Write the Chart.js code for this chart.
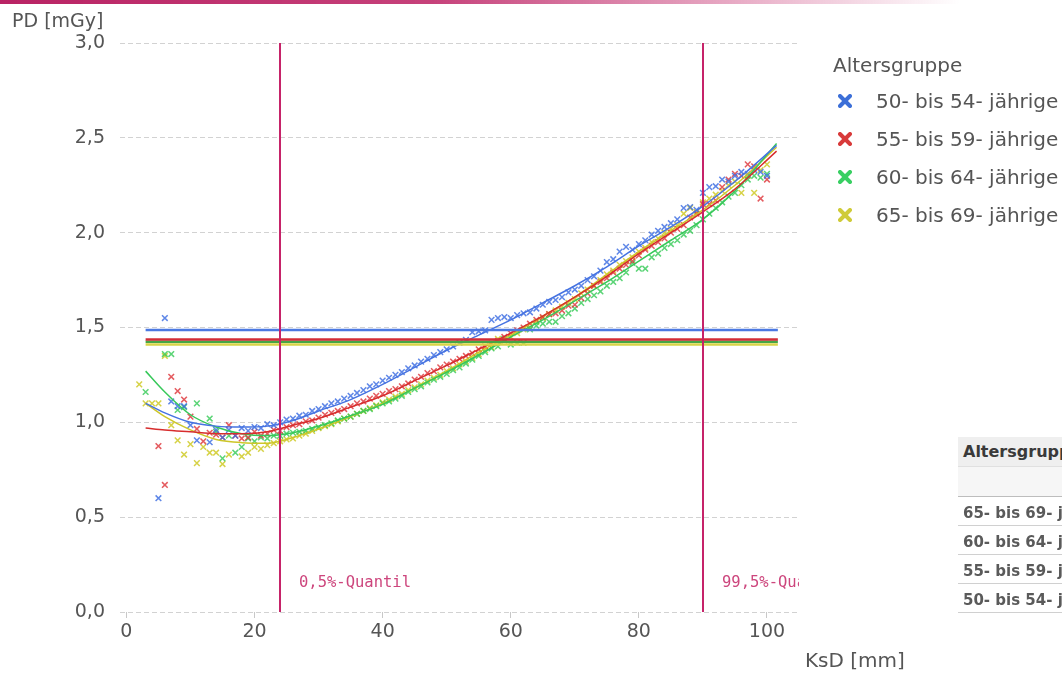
<!DOCTYPE html>
<html><head><meta charset="utf-8">
<script src="https://cdn.jsdelivr.net/npm/chart.js@4/dist/chart.umd.min.js"></script>
<style>
html,body{margin:0;padding:0;background:#fff;overflow:hidden}
#wrap{position:relative;width:1062px;height:674px;font-family:"DejaVu Sans",sans-serif;color:#555;overflow:hidden}
canvas{position:absolute;left:0;top:0}
.topbar{position:absolute;left:0;top:0;width:960px;height:4px;background:linear-gradient(to right,rgba(185,35,100,1) 0%,rgba(195,55,115,0.95) 45%,rgba(215,110,155,0.55) 78%,rgba(255,255,255,0) 100%)}
.ytitle{position:absolute;left:12px;top:8px;font-size:19px;line-height:24px;color:#555;white-space:nowrap}
.xtitle{position:absolute;left:805px;top:648px;font-size:20px;line-height:24px;color:#555;white-space:nowrap}
.legtitle{position:absolute;left:833px;top:53px;font-size:20px;line-height:24px;color:#555;white-space:nowrap}
.legitem{position:absolute;left:838px;height:24px;font-size:20px;line-height:24px;color:#555;white-space:nowrap}
.legitem svg{position:absolute;left:0;top:5px}
.legitem span{position:absolute;left:38px;top:0}
.tbl{position:absolute;left:958px;top:437px;width:120px;font-family:"DejaVu Sans",sans-serif;font-weight:bold;font-size:15px;color:#5a5a5a}
.tbl div{position:relative;white-space:nowrap;padding-left:5px;box-sizing:border-box;overflow:hidden}
</style></head>
<body><div id="wrap">
<canvas id="c" width="1062" height="674"></canvas>
<div class="topbar"></div>
<div class="ytitle">PD [mGy]</div>
<div class="xtitle">KsD [mm]</div>
<div id="legend"></div>
<div class="tbl" id="tbl"></div>
</div>
<script>
// ---- data ----
const legendTitle = 'Altersgruppe';
const groups = ['50- bis 54- jährige','55- bis 59- jährige','60- bis 64- jährige','65- bis 69- jährige'];
const tableHeader = 'Altersgruppe';
const tableRows = ['65- bis 69- jährige','60- bis 64- jährige','55- bis 59- jährige','50- bis 54- jährige'];
const xTicks = [0,20,40,60,80,100];
const yTicks = [0,0.5,1,1.5,2,2.5,3];
const quantileX = [24, 90];
const quantileLabels = ['0,5%-Quantil','99,5%-Quantil'];
const ksd = [2,3,4,5,6,7,8,9,10,11,12,13,14,15,16,17,18,19,20,21,22,23,24,25,26,27,28,29,30,31,32,33,34,35,36,37,38,39,40,41,42,43,44,45,46,47,48,49,50,51,52,53,54,55,56,57,58,59,60,61,62,63,64,65,66,67,68,69,70,71,72,73,74,75,76,77,78,79,80,81,82,83,84,85,86,87,88,89,90,91,92,93,94,95,96,97,98,99,100];
const pd50 = [null,null,null,0.60,1.55,1.11,1.085,1.085,0.985,0.905,null,0.895,0.96,0.92,0.96,0.93,0.97,0.955,0.975,0.97,0.99,0.985,1.00,1.015,1.02,1.035,1.04,1.06,1.07,1.085,1.10,1.11,1.125,1.14,1.155,1.17,1.19,1.20,1.22,1.235,1.25,1.265,1.285,1.30,1.32,1.335,1.355,1.37,1.385,1.40,1.42,1.435,1.475,1.48,1.485,1.54,1.55,1.555,1.55,1.565,1.575,1.58,1.60,1.62,1.635,1.645,1.66,1.685,1.70,1.72,1.75,1.77,1.80,1.845,1.86,1.90,1.925,1.91,1.94,1.96,1.99,2.01,2.03,2.05,2.07,2.13,2.135,2.12,2.21,2.24,2.245,2.28,2.27,2.30,2.32,2.31,2.33,2.32,2.30];
const pd55 = [null,null,null,0.875,0.67,1.24,1.165,1.12,1.03,0.965,0.90,0.945,0.935,0.92,0.985,0.93,0.915,0.92,0.95,0.93,0.94,0.96,0.955,0.975,0.985,0.99,1.005,1.01,1.025,1.04,1.05,1.06,1.07,1.085,1.10,1.11,1.125,1.14,1.15,1.165,1.175,1.19,1.205,1.225,1.24,1.26,1.27,1.29,1.305,1.32,1.335,1.35,1.365,1.385,1.40,1.415,1.43,1.45,1.47,1.485,1.50,1.52,1.54,1.555,1.57,1.575,1.59,1.615,1.62,1.655,1.68,1.72,1.74,1.76,1.79,1.81,1.83,1.85,1.88,1.91,1.93,1.95,1.97,2.00,2.02,2.04,2.08,2.10,2.15,2.15,2.17,2.24,2.28,2.31,2.30,2.36,2.35,2.18,2.28];
const pd60 = [null,1.16,null,null,1.36,1.36,1.065,1.08,null,1.10,null,1.02,0.95,0.81,0.93,0.84,0.87,0.915,0.90,0.92,0.915,0.93,0.93,0.94,0.945,0.95,0.955,0.965,0.975,0.985,0.995,1.01,1.02,1.03,1.045,1.06,1.07,1.085,1.10,1.11,1.125,1.14,1.16,1.175,1.19,1.21,1.225,1.24,1.255,1.275,1.29,1.31,1.33,1.35,1.37,1.39,1.40,1.44,1.41,1.42,1.42,1.49,1.51,1.52,1.53,1.53,1.56,1.575,1.60,1.63,1.65,1.67,1.69,1.72,1.74,1.76,1.79,1.84,1.81,1.81,1.87,1.89,1.92,1.94,1.96,1.99,2.01,2.04,2.07,2.10,2.13,2.16,2.19,2.21,2.25,2.28,2.30,2.29,2.31];
const pd65 = [1.20,1.10,1.10,1.10,1.35,0.985,0.905,0.83,0.885,0.785,0.87,0.84,0.84,0.78,0.83,null,0.82,0.84,0.87,0.86,0.88,0.89,0.90,0.91,0.915,0.93,0.94,0.955,0.97,0.98,0.99,1.005,1.02,1.03,1.045,1.06,1.075,1.09,1.105,1.12,1.135,1.15,1.17,1.185,1.20,1.22,1.235,1.25,1.27,1.285,1.305,1.32,1.34,1.36,1.38,1.395,1.44,1.43,1.45,1.47,1.49,1.50,1.53,1.55,1.57,1.59,1.61,1.63,1.65,1.68,1.70,1.72,1.75,1.78,1.80,1.83,1.85,1.87,1.90,1.92,1.95,1.97,2.00,2.02,2.04,2.10,2.13,2.11,2.16,2.18,2.20,2.22,2.25,2.27,2.21,2.30,2.21,2.33,2.36];
const fitX = [3,6,10,14,18,22,26,30,35,40,45,50,55,60,65,70,75,80,85,90,95,101.5];
const fit50 = [1.10,1.05,1.00,0.98,0.975,0.98,1.01,1.06,1.12,1.20,1.29,1.38,1.46,1.54,1.63,1.72,1.82,1.93,2.03,2.14,2.27,2.46];
const fit55 = [0.97,0.96,0.95,0.94,0.94,0.95,0.985,1.02,1.08,1.14,1.22,1.30,1.385,1.47,1.56,1.66,1.77,1.89,2.00,2.11,2.23,2.43];
const fit60 = [1.27,1.16,1.04,0.975,0.94,0.93,0.945,0.98,1.035,1.095,1.18,1.265,1.355,1.45,1.54,1.64,1.74,1.85,1.96,2.07,2.22,2.47];
const fit65 = [1.10,1.03,0.96,0.91,0.893,0.89,0.92,0.965,1.03,1.10,1.18,1.27,1.37,1.46,1.56,1.66,1.78,1.90,2.01,2.12,2.25,2.45];
const meanX = [3, 101.7];
const means = [1.487, 1.437, 1.425, 1.41];

// ---- styles ----
const pointCols = ['rgba(55,105,225,0.8)','rgba(220,45,50,0.78)','rgba(45,200,80,0.78)','rgba(205,200,30,0.82)'];
const lineCols = ['rgb(70,115,225)','rgb(215,45,45)','rgb(55,200,90)','rgb(205,198,40)'];
const meanCols = ['rgb(75,120,225)','rgb(210,45,55)','rgb(70,165,70)','rgb(215,212,70)'];
const legCols = ['#3c6fd8','#d83a3a','#38cf62','#cfcb38'];

const pdSeries = [pd50,pd55,pd60,pd65];
const fitSeries = [fit50,fit55,fit60,fit65];

const datasets = [];
means.forEach((m,i)=>{
  datasets.push({type:'line',data:meanX.map(x=>({x:x,y:m})),borderColor:meanCols[i],borderWidth:2.5,pointRadius:0,order:0});
});
fitSeries.forEach((f,i)=>{
  datasets.push({type:'line',data:fitX.map((x,j)=>({x:x,y:f[j]})),borderColor:lineCols[i],borderWidth:1.5,pointRadius:0,cubicInterpolationMode:'monotone',order:1});
});
pdSeries.forEach((s,i)=>{
  const pts=[]; ksd.forEach((x,j)=>{ if(s[j]!==null) pts.push({x:x,y:s[j]}); });
  datasets.push({type:'scatter',data:pts,pointStyle:'crossRot',pointRadius:4,borderColor:pointCols[i],backgroundColor:pointCols[i],pointBorderWidth:1.5,showLine:false,order:2});
});

const quantPlugin = {
  id:'quant',
  afterDatasetsDraw(chart){
    const {ctx, chartArea:a, scales:{x}} = chart;
    ctx.save();
    ctx.beginPath(); ctx.rect(a.left,a.top,a.right-a.left,a.bottom-a.top); ctx.clip();
    quantileX.forEach((v,i)=>{
      const px = Math.round(x.getPixelForValue(v));
      ctx.strokeStyle='rgb(198,35,105)'; ctx.lineWidth=2;
      ctx.beginPath(); ctx.moveTo(px,a.top); ctx.lineTo(px,a.bottom); ctx.stroke();
      ctx.fillStyle='rgb(205,70,125)';
      ctx.font='15.5px "DejaVu Sans Mono", monospace';
      ctx.textBaseline='middle'; ctx.textAlign='left';
      ctx.fillText(quantileLabels[i], px+19, a.bottom-29);
    });
    ctx.restore();
  }
};

new Chart(document.getElementById('c'),{
  data:{datasets:datasets},
  options:{
    responsive:false, animation:false, devicePixelRatio:1,
    layout:{padding:{left:0,right:263,top:43,bottom:0}},
    plugins:{legend:{display:false},tooltip:{enabled:false}},
    scales:{
      x:{type:'linear',min:-1,max:105,
        afterBuildTicks(s){s.ticks=xTicks.map(v=>({value:v}));},
        afterFit(s){s.height=62;},
        grid:{drawOnChartArea:false,drawTicks:true,tickLength:6,color:'#c8c8c8'},
        border:{display:false},
        ticks:{font:{family:'DejaVu Sans',size:19},color:'#555',padding:3,maxRotation:0,autoSkip:false}},
      y:{type:'linear',min:0,max:3,
        afterBuildTicks(s){s.ticks=yTicks.map(v=>({value:v}));},
        afterFit(s){s.width=120;},
        grid:{color:'#d2d2d2',drawTicks:false,lineWidth:1},
        border:{display:false,dash:[5,3]},
        ticks:{font:{family:'DejaVu Sans',size:19},color:'#555',padding:15,
          callback:v=>v.toFixed(1).replace('.',',')}}
    }
  },
  plugins:[quantPlugin]
});

// legend
const leg = document.getElementById('legend');
let h = '<div class="legtitle">'+legendTitle+'</div>';
const legY = [89, 127, 165, 203];
groups.forEach((g,i)=>{
  h += '<div class="legitem" style="top:'+legY[i]+'px"><svg width="14" height="14"><line x1="2" y1="2" x2="12" y2="12" stroke="'+legCols[i]+'" stroke-width="4" stroke-linecap="round"/><line x1="12" y1="2" x2="2" y2="12" stroke="'+legCols[i]+'" stroke-width="4" stroke-linecap="round"/></svg><span>'+g+'</span></div>';
});
leg.innerHTML = h;

// table
const tbl = document.getElementById('tbl');
let t = '<div style="height:30px;line-height:30px;background:#efefef;color:#3a3a3a;font-size:16px;border-bottom:1px solid #e0e0e0">'+tableHeader+'</div>';
t += '<div style="height:30px;background:#f6f6f6;border-bottom:1px solid #bdbdbd"></div>';
tableRows.forEach(r=>{ t += '<div style="height:29px;line-height:32px;border-bottom:1px solid #d0d0d0">'+r+'</div>'; });
tbl.innerHTML = t;
</script>
</body></html>
